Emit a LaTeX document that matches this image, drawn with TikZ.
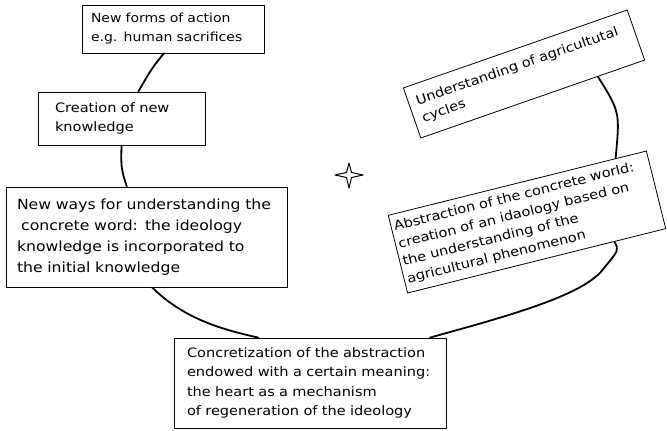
\documentclass[tikz,border=0pt]{standalone}
\usepackage{fontspec}
\setmainfont{DejaVu Sans}[FakeStretch=1.12]
\usetikzlibrary{calc}
\begin{document}
\begin{tikzpicture}[x=1pt, y=-1pt, line cap=round, line join=round, font=\fontsize{13}{19.5}\selectfont]
	\tikzset{box/.style={draw, line width=0.8pt, align=left, inner ysep=2pt},
		link/.style={line width=1.8pt}}
	\useasboundingbox (0,0) rectangle (667,431);
	% boxes of the cycle
	\node[box, inner xsep=9pt, text width=164pt, minimum height=48pt, font=\fontsize{12.5}{19}\selectfont] (action) at (173,29) {New forms of action\\e.g. human sacrifices};
	\node[box, inner xsep=17pt, text width=133pt, minimum height=53pt] (creation) at (121.5,118.5) {Creation of new\\knowledge};
	\node[box, inner xsep=11pt, text width=259pt, minimum height=100pt, font=\fontsize{14}{21}\selectfont] (newways) at (146.5,237) {New ways for understanding the\\\hspace{0.3em}concrete word: the ideology\\knowledge is incorporated to\\the initial knowledge};
	\node[box, inner xsep=13pt, text width=246pt, minimum height=90pt] (concrete) at (310,383) {Concretization of the abstraction\\endowed with a certain meaning:\\the heart as a mechanism\\of regeneration of the ideology};
	\node[box, rotate=19.2, inner xsep=8pt, text width=221pt, minimum height=53pt, font=\fontsize{13}{18}\selectfont] (cycles) at (524,74) {Understanding of agricultutal\\cycles};
	\node[box, rotate=14, inner xsep=3pt, inner ysep=1pt, text width=260pt, minimum height=80pt, font=\fontsize{13}{18}\selectfont] (abstract) at (527,222) {Abstraction of the concrete world:\\creation of an idaology based on\\the understanding of the\\agricultural phenomenon};
	% the circle
	\draw[link] ($(action.south west)!0.45!(action.south east)$) .. controls (152,68) .. ($(creation.north west)!0.6!(creation.north east)$);
	\draw[link] ($(creation.south west)!0.5!(creation.south east)$) .. controls (121,168) .. ($(newways.north west)!0.43!(newways.north east)$);
	\draw[link] ($(newways.south west)!0.52!(newways.south east)$) .. controls (185,320) and (225,330) .. ($(concrete.north west)!0.31!(concrete.north east)$);
	\draw[link] ($(concrete.north west)!0.94!(concrete.north east)$) .. controls (500,318) and (585,296) .. (604,268) .. controls (619,250) .. ($(abstract.south west)!0.8!(abstract.south east)$);
	\draw[link] ($(abstract.north west)!0.88!(abstract.north east)$) .. controls (620,112) .. ($(cycles.south west)!0.79!(cycles.south east)$);
	% the star
	\draw[line width=1pt] (349,163) -- (351.5,172.5) -- (363,175) -- (351.5,177.5) -- (349,188) -- (346.5,177.5) -- (335,175) -- (346.5,172.5) -- cycle;
\end{tikzpicture}
\end{document}
